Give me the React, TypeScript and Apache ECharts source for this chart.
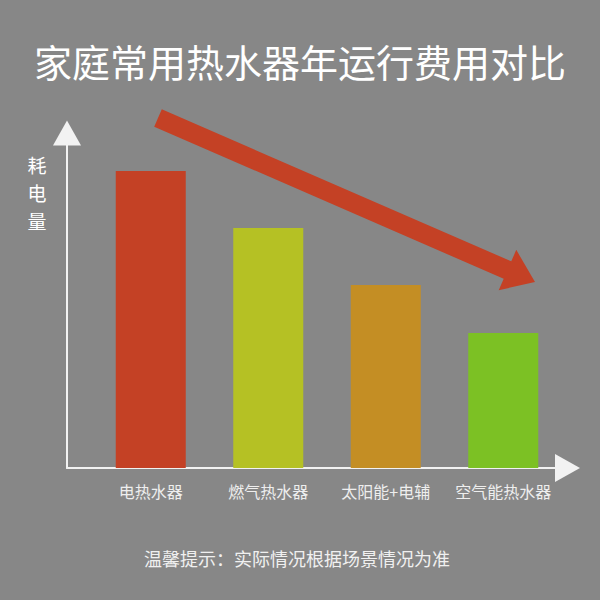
import { useEffect, useRef } from 'react';
import * as echarts from 'echarts';

const categories = ['电热水器', '燃气热水器', '太阳能+电辅', '空气能热水器'];
const consumption = [99, 80, 61, 45];
const barColors = ['#C44125', '#B5C124', '#C48E24', '#7CC124'];
const titleText = '家庭常用热水器年运行费用对比';
const yName = ['耗', '电', '量'];
const noteText = '温馨提示：实际情况根据场景情况为准';

const FONT = '"Noto Sans CJK SC", "Noto Sans", sans-serif';
const AXIS_COLOR = '#f2f2f2';

// big trend arrow, tail centre -> tip
function trendArrow(sx: number, sy: number, tx: number, ty: number) {
  const len = Math.hypot(tx - sx, ty - sy);
  const ux = (tx - sx) / len;
  const uy = (ty - sy) / len;
  const nx = -uy;
  const ny = ux;
  const shaft = 9.5;
  const headW = 22;
  const headL = 30;
  const bx = tx - ux * headL;
  const by = ty - uy * headL;
  return [
    [sx + nx * shaft, sy + ny * shaft],
    [bx + nx * shaft, by + ny * shaft],
    [bx + nx * headW, by + ny * headW],
    [tx, ty],
    [bx - nx * headW, by - ny * headW],
    [bx - nx * shaft, by - ny * shaft],
    [sx - nx * shaft, sy - ny * shaft],
  ];
}

export default function App() {
  const ref = useRef<HTMLDivElement>(null);

  useEffect(() => {
    document.body.style.margin = '0';
    if (!ref.current) {
      return undefined;
    }

    const chart = echarts.init(ref.current, undefined, { renderer: 'svg' });
    const arrowSymbol = {
      show: true,
      onZero: false,
      symbol: ['none', 'triangle'],
      symbolSize: [28, 25],
      lineStyle: { color: AXIS_COLOR, width: 2 },
    };

    const option: echarts.EChartsOption = {
      animation: false,
      backgroundColor: '#878787',
      title: {
        text: titleText,
        left: 'center',
        top: 36,
        textStyle: { color: '#ffffff', fontSize: 38, fontWeight: 'normal', fontFamily: FONT },
      },
      grid: [
        { left: 92, right: 38, top: 138, bottom: 132 },
        { left: 67, right: 32.5, top: 133, bottom: 132 },
      ],
      xAxis: [
        {
          type: 'category',
          gridIndex: 0,
          data: categories,
          axisLine: { show: false },
          axisTick: { show: false },
          axisLabel: { color: '#eeeeee', fontSize: 16, margin: 15, fontFamily: FONT, interval: 0 },
        },
        {
          type: 'value',
          gridIndex: 1,
          min: 0,
          max: 1,
          axisLine: arrowSymbol,
          axisTick: { show: false },
          axisLabel: { show: false },
          splitLine: { show: false },
        },
      ],
      yAxis: [
        {
          type: 'value',
          gridIndex: 0,
          min: 0,
          max: 110,
          show: false,
        },
        {
          type: 'value',
          gridIndex: 1,
          min: 0,
          max: 1,
          axisLine: arrowSymbol,
          axisTick: { show: false },
          axisLabel: { show: false },
          splitLine: { show: false },
        },
      ],
      series: [
        {
          type: 'bar',
          xAxisIndex: 0,
          yAxisIndex: 0,
          barWidth: 70,
          data: consumption.map((value, i) => ({ value, itemStyle: { color: barColors[i] } })),
        },
      ],
      graphic: [
        {
          type: 'polygon',
          shape: { points: trendArrow(158, 118, 535, 282) },
          style: { fill: '#C44125' },
          z: 10,
        },
        ...yName.map((ch, i) => ({
          type: 'text' as const,
          x: 37,
          y: 164.5 + i * 28,
          style: {
            text: ch,
            fill: '#ffffff',
            font: `19px ${FONT}`,
            align: 'center' as const,
            verticalAlign: 'middle' as const,
          },
        })),
        {
          type: 'text',
          x: 297,
          y: 558,
          style: {
            text: noteText,
            fill: '#f0f0f0',
            font: `18px ${FONT}`,
            align: 'center',
            verticalAlign: 'middle',
          },
        },
      ],
    };

    chart.setOption(option);
    return () => {
      chart.dispose();
    };
  }, []);

  return <div ref={ref} style={{ width: 600, height: 600 }} />;
}
